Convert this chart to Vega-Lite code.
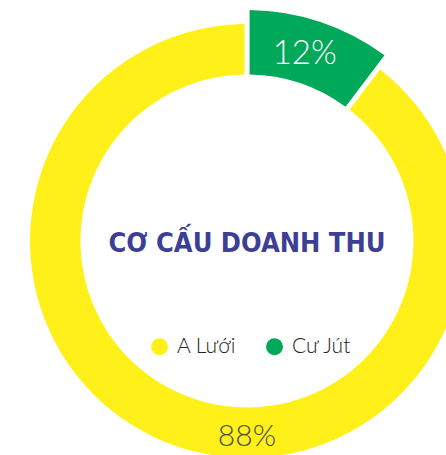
{
  "$schema": "https://vega.github.io/schema/vega-lite/v6.json",
  "width": 494,
  "height": 482,
  "padding": 0,
  "background": "white",
  "config": {"view": {"stroke": null}},
  "data": {"values": [
    {"region": "A Lưới", "value": 88, "label": "88%"},
    {"region": "Cư Jút", "value": 12, "label": "12%"}
  ]},
  "resolve": {"scale": {"theta": "independent"}},
  "layer": [
    {
      "transform": [
        {"stack": "value", "groupby": [], "sort": [{"field": "region", "order": "descending"}], "as": ["v0", "v1"]},
        {"filter": "datum.region === 'A Lưới'"}
      ],
      "mark": {"type": "arc", "padAngle": 0.018, "radius": 217, "radius2": 166.5},
      "encoding": {
        "theta": {"field": "v0", "type": "quantitative", "scale": {"type": "pow", "exponent": 1.071, "domain": [0, 100], "range": [0, 6.2832]}},
        "theta2": {"field": "v1"},
        "color": {
          "field": "region", "type": "nominal",
          "scale": {"domain": ["A Lưới", "Cư Jút"], "range": ["#fff01a", "#00a859"]},
          "legend": {"orient": "none", "legendX": 149, "legendY": 336, "direction": "horizontal", "title": null, "symbolType": "circle", "symbolSize": 289, "symbolStrokeWidth": 0, "labelFontSize": 21, "labelFont": "Lato", "labelFontWeight": 300, "labelColor": "#222222", "labelOffset": 7, "columnPadding": 27}
        }
      }
    },
    {
      "transform": [
        {"stack": "value", "groupby": [], "sort": [{"field": "region", "order": "descending"}], "as": ["v0", "v1"]},
        {"filter": "datum.region === 'Cư Jút'"}
      ],
      "mark": {"type": "arc", "padAngle": 0.018, "radius": 231, "radius2": 166.5},
      "encoding": {
        "theta": {"field": "v0", "type": "quantitative", "scale": {"type": "pow", "exponent": 1.071, "domain": [0, 100], "range": [0, 6.2832]}},
        "theta2": {"field": "v1"},
        "color": {"field": "region", "type": "nominal"}
      }
    },
    {
      "mark": {"type": "text", "font": "Lato", "fontWeight": 300, "baseline": "middle", "align": "center", "radius": 196},
      "encoding": {
        "theta": {"field": "value", "type": "quantitative", "stack": true, "scale": {"domain": [0, 100], "range": [-0.0427, 5.644]}},
        "order": {"field": "region", "sort": "descending"},
        "text": {"field": "label"},
        "color": {"condition": {"test": "datum.region === 'Cư Jút'", "value": "white"}, "value": "#4d4d4d"},
        "size": {"condition": {"test": "datum.region === 'Cư Jút'", "value": 33}, "value": 30}
      }
    },
    {
      "data": {"values": [{"title": "CƠ CẤU DOANH THU"}]},
      "mark": {"type": "text", "font": "Liberation Sans Narrow, DejaVu Sans Condensed, Roboto Condensed, Roboto", "fontWeight": "bold", "fontSize": 27, "color": "#3d3f95", "baseline": "middle", "align": "center", "dy": 3},
      "encoding": {"text": {"field": "title"}}
    }
  ]
}
